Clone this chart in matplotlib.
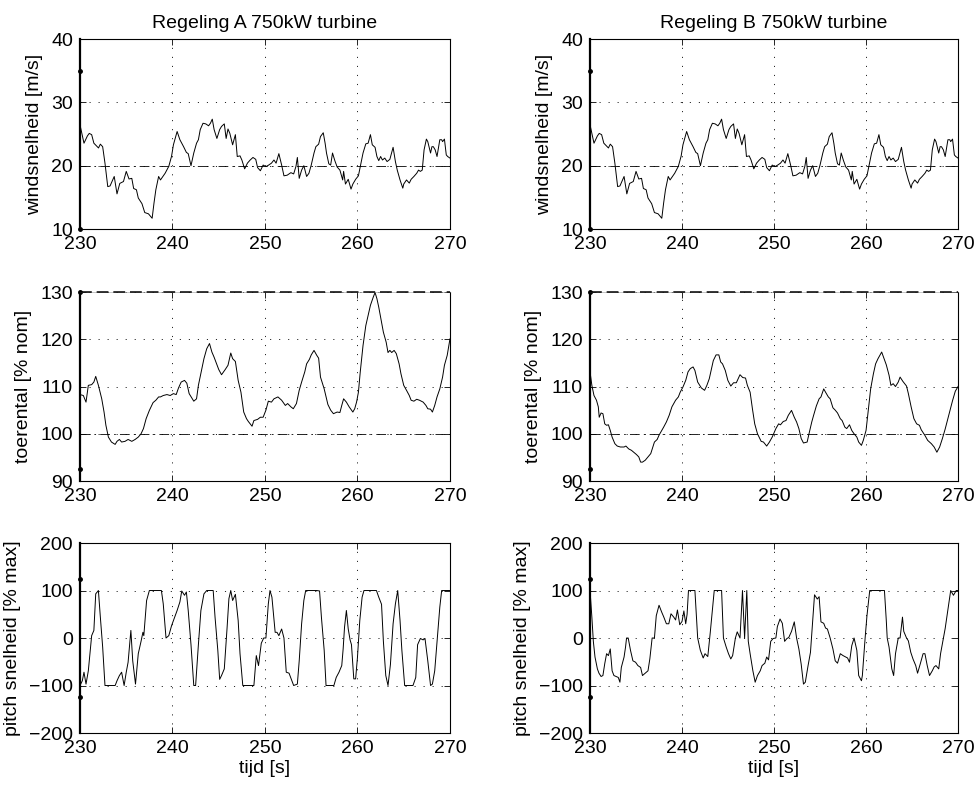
import matplotlib
matplotlib.use("Agg")
import matplotlib.pyplot as plt

# ---- data ----
# wind speed (same input for both controllers)
t_wind = [230.0, 230.43, 230.8, 231.0, 231.26, 231.5, 231.8, 232.0, 232.2, 232.45,
          232.7, 233.0, 233.25, 233.7, 234.0, 234.3, 234.7, 235.0, 235.3, 235.6,
          235.8, 236.1, 236.3, 236.7, 237.0, 237.4, 237.8, 238.0, 238.2, 238.5,
          238.7, 239.2, 239.6, 239.9, 240.1, 240.5, 240.8, 241.2, 241.5, 241.7,
          242.0, 242.3, 242.6, 242.8, 243.0, 243.3, 243.6, 243.9, 244.1, 244.3,
          244.5, 244.8, 245.1, 245.3, 245.6, 245.8, 246.0, 246.2, 246.5, 246.8,
          247.0, 247.3, 247.5, 247.8, 248.1, 248.4, 248.7, 249.0, 249.2, 249.5,
          249.8,
          250.1, 250.4, 250.7, 250.97, 251.2, 251.5, 251.8, 252.05, 252.4, 252.8,
          253.1, 253.35, 253.5, 253.7, 253.96, 254.2, 254.5, 254.75, 255.0, 255.3,
          255.5, 255.8, 256.0, 256.3, 256.5, 256.65, 256.9, 257.1, 257.3, 257.55,
          257.8, 258.1, 258.4, 258.5, 258.7, 259.0, 259.3, 259.5, 259.8, 260.1,
          260.3, 260.6, 260.9, 261.15, 261.4, 261.6, 261.9, 262.1, 262.3, 262.5,
          262.7, 262.95, 263.2, 263.5, 263.85, 264.1, 264.3, 264.6, 264.9, 265.0,
          265.3, 265.6, 265.8, 266.1, 266.4, 266.6, 266.8, 267.0, 267.2, 267.45,
          267.6, 267.9, 268.05, 268.2, 268.4, 268.6, 268.9, 269.1, 269.2, 269.4,
          269.6, 269.75, 270.0]
wind = [26.45, 23.55, 24.7, 25.1, 24.9, 23.55, 23.1, 22.8, 23.4, 23.0,
        20.4, 16.7, 16.8, 18.3, 15.55, 17.2, 17.5, 19.1, 17.9, 18.0,
        16.4, 16.2, 14.9, 14.0, 12.6, 12.4, 11.7, 14.1, 16.2, 18.3,
        17.75, 18.8, 19.9, 21.5, 23.3, 25.4, 24.1, 23.0, 22.1, 21.9,
        20.0, 22.0, 23.55, 24.1, 25.7, 26.7, 26.6, 26.3, 26.7, 27.35,
        25.7, 24.3, 25.7, 26.2, 26.6, 24.3, 25.8, 25.1, 23.3, 24.9,
        21.45, 21.55, 20.9, 19.5, 20.4, 20.9, 21.3, 21.0, 19.7, 19.2,
        20.1,
        19.85, 20.1, 20.4, 20.9, 20.4, 21.9, 20.1, 18.4, 18.5, 18.9,
        18.7, 19.9, 21.3, 18.0, 19.3, 20.0, 18.3, 18.8, 20.1, 22.0,
        23.0, 23.4, 24.6, 25.2, 23.55, 22.0, 20.3, 20.1, 22.0, 20.8,
        19.8, 19.3, 17.75, 19.1, 17.1, 17.85, 16.3, 17.1, 17.85, 18.4,
        19.85, 22.0, 23.45, 23.55, 24.9, 23.3, 22.9, 21.45, 20.8, 21.45,
        20.9, 21.2, 20.65, 21.0, 22.9, 20.65, 19.3, 17.75, 16.45, 17.1,
        17.75, 17.25, 17.85, 18.3, 18.8, 19.3, 19.1, 19.3, 22.5, 24.2,
        23.8, 22.0, 23.0, 23.0, 22.5, 21.45, 24.1, 24.1, 23.8, 24.2,
        21.7, 21.45, 21.2]

# rotor speed, controller A
t_rpm_a = [230.0, 230.36, 230.65, 230.9, 231.26, 231.5, 231.7, 231.99, 232.35, 232.6,
           232.8, 233.07, 233.4, 233.8, 234.0, 234.26, 234.5, 234.87, 235.2, 235.6,
           235.96, 236.3, 236.6, 236.86, 237.15, 237.5, 237.9, 238.2, 238.5, 238.7,
           239.0, 239.4, 239.75, 240.1, 240.4, 240.65, 240.94, 241.3, 241.55, 241.8,
           242.3, 242.6, 242.8, 243.1, 243.4, 243.7, 244.0, 244.26, 244.5, 245.0,
           245.3, 245.7, 246.0, 246.3, 246.5, 246.8, 247.1, 247.4, 247.7, 248.0,
           248.2, 248.6, 248.8, 249.2, 249.5, 249.8,
           250.1, 250.36, 250.7, 250.97, 251.4, 251.8, 252.2, 252.45, 252.8, 253.06,
           253.4, 253.7, 253.96, 254.3, 254.5, 254.8, 255.0, 255.3, 255.6, 255.8,
           256.0, 256.4, 256.65, 256.8, 257.1, 257.4, 257.8, 258.1, 258.3, 258.5,
           258.8, 259.1, 259.5, 259.7, 259.9, 260.1, 260.3, 260.6, 260.9, 261.15,
           261.4, 261.7, 261.9, 262.1, 262.3, 262.6, 262.8, 263.1, 263.3, 263.5,
           263.7, 263.96, 264.2, 264.5, 264.7, 265.0, 265.3, 265.6, 265.8, 266.1,
           266.4, 266.7, 267.1, 267.4, 267.6, 267.9, 268.1, 268.35, 268.6, 268.9,
           269.2, 269.4, 269.7, 270.0]
rpm_a = [108.3, 108.1, 106.7, 110.25, 110.4, 110.95, 112.15, 110.25, 107.4, 104.6,
         101.8, 99.3, 98.25, 97.75, 98.4, 98.8, 98.25, 98.4, 98.8, 98.4,
         98.8, 99.3, 100.0, 101.1, 103.2, 104.95, 106.6, 107.1, 107.8, 107.8,
         108.1, 108.3, 108.1, 108.5, 108.3, 109.7, 110.95, 111.3, 110.7, 108.5,
         106.9, 107.4, 110.25, 113.1, 115.9, 118.0, 119.1, 117.3, 116.2, 113.6,
         112.5, 113.6, 114.5, 117.1, 115.9, 115.3, 111.3, 108.8, 104.6, 103.2,
         102.6, 101.6, 102.8, 103.05, 103.5, 103.5,
         105.0, 106.9, 106.7, 107.4, 107.8, 107.1, 106.0, 106.4, 105.7, 105.3,
         106.4, 109.2, 110.95, 113.1, 114.8, 115.75, 116.7, 117.65, 116.6, 116.0,
         112.0, 109.5, 107.4, 106.2, 105.0, 104.25, 104.6, 104.5, 106.0, 107.4,
         106.7, 105.7, 104.6, 105.3, 106.7, 108.8, 113.1, 118.7, 122.9, 125.1,
         127.2, 128.9, 129.9, 128.6, 126.8, 123.65, 121.5, 119.4, 117.2, 117.65,
         117.2, 117.65, 116.95, 114.8, 112.7, 110.25, 109.2, 108.1, 107.1, 106.9,
         107.3, 107.1, 106.7, 106.0, 105.3, 105.2, 104.6, 106.0, 107.8, 109.5,
         112.0, 114.5, 116.6, 120.1]

# rotor speed, controller B
t_rpm_b = [230.0, 230.2, 230.43, 230.7, 230.9, 231.0, 231.2, 231.4, 231.6, 231.8,
           232.0, 232.2, 232.4, 232.7, 232.96, 233.3, 233.7, 233.9, 234.2, 234.5,
           234.8, 235.05, 235.3, 235.5, 235.7, 236.0, 236.3, 236.6, 236.8, 237.0,
           237.3, 237.5, 237.8, 238.0, 238.3, 238.6, 238.9, 239.3, 239.6, 239.8,
           240.1, 240.4, 240.65, 240.9, 241.2, 241.4, 241.7, 242.1, 242.45, 242.7,
           242.96, 243.2, 243.4, 243.7, 244.0, 244.2, 244.4, 244.7, 244.98, 245.3,
           245.6, 245.9, 246.1, 246.3, 246.6, 246.9, 247.1, 247.4, 247.65, 247.9,
           248.2, 248.6, 248.85, 249.2, 249.5, 249.8, 250.2, 250.5, 250.7, 251.0,
           251.3, 251.55, 251.9, 252.2, 252.45, 252.7, 252.95, 253.2, 253.6, 253.8,
           254.1, 254.3, 254.6, 254.9, 255.1, 255.4, 255.6, 255.9, 256.1, 256.4,
           256.65, 256.9, 257.2, 257.4, 257.7, 257.9, 258.2, 258.45, 258.7, 259.0,
           259.2, 259.5, 259.7, 260.0, 260.25, 260.5, 260.8, 261.04, 261.3, 261.7,
           261.9, 262.2, 262.5, 262.7, 262.95, 263.2, 263.5, 263.7, 264.0, 264.4,
           264.6, 264.9, 265.2, 265.5, 265.8, 266.0, 266.4, 266.7, 267.1, 267.4,
           267.7, 268.0, 268.3, 268.6, 269.0, 269.4, 269.7, 270.0]
rpm_b = [113.1, 110.25, 108.1, 107.1, 105.7, 103.5, 104.4, 104.25, 102.1, 101.8,
         101.9, 100.7, 99.3, 97.9, 97.4, 97.2, 97.2, 97.4, 96.8, 96.5,
         96.0, 95.6, 95.1, 94.0, 94.0, 94.4, 95.1, 95.8, 97.0, 98.25,
         98.8, 99.7, 100.7, 101.4, 102.5, 103.9, 105.7, 107.1, 107.8, 108.8,
         109.9, 111.3, 113.1, 113.8, 114.15, 113.4, 110.95, 109.7, 109.2, 110.25,
         111.65, 113.8, 115.5, 116.7, 116.7, 115.2, 114.8, 113.4, 111.3, 110.1,
         110.8, 110.8, 111.65, 112.5, 111.9, 111.8, 110.25, 108.8, 105.3, 102.1,
         100.0, 98.4, 98.25, 97.4, 98.25, 99.3, 101.1, 102.1, 101.9, 102.6,
         102.8, 103.9, 104.95, 103.5, 102.5, 101.1, 99.0, 98.05, 98.25, 100.0,
         102.5, 103.9, 105.9, 107.4, 107.8, 109.5, 108.8, 107.8, 107.4, 105.5,
         105.0, 104.4, 103.2, 102.8, 101.4, 101.1, 101.9, 100.7, 100.0, 99.3,
         98.25, 97.55, 98.6, 100.7, 105.0, 109.5, 112.7, 114.8, 115.9, 117.3,
         116.2, 114.6, 112.4, 110.25, 110.6, 110.0, 110.95, 112.0, 111.1, 110.1,
         108.5, 105.7, 103.2, 102.1, 101.8, 100.85, 99.65, 98.6, 97.9, 97.2,
         96.1, 97.2, 99.0, 101.0, 104.0, 107.0, 109.0, 110.0]

# pitch rate, controller A
t_pitch_a = [230.0, 230.25, 230.43, 230.65, 230.9, 231.26, 231.5, 231.7, 231.99, 232.2,
             232.45, 232.7, 233.07, 233.4, 233.8, 234.0, 234.26, 234.5, 234.77, 235.0,
             235.2, 235.5, 235.7, 236.0, 236.3, 236.6, 236.8, 236.9, 237.2, 237.5,
             237.9, 238.4, 238.8, 239.0, 239.3, 239.6, 239.9, 240.5, 240.8, 241.0,
             241.3, 241.5, 241.7, 242.0, 242.3, 242.5, 242.8, 243.07, 243.4, 243.7,
             244.1, 244.4, 244.6, 244.9, 245.1, 245.3, 245.6, 245.9, 246.1, 246.3,
             246.5, 246.8, 247.1, 247.3, 247.6, 248.05, 248.4, 248.8, 249.06, 249.3,
             249.6, 249.86,
             250.1, 250.36, 250.54, 250.75, 251.1, 251.3, 251.5, 251.8, 252.05, 252.3,
             252.6, 252.9, 253.1, 253.5, 253.7, 253.96, 254.2, 254.4, 254.86, 255.3,
             255.6, 255.9, 256.1, 256.4, 256.6, 257.0, 257.45, 257.7, 258.0, 258.3,
             258.45, 258.6, 258.8, 259.0, 259.2, 259.35, 259.6, 259.8, 260.0, 260.25,
             260.5, 260.7, 261.15, 261.7, 262.05, 262.3, 262.6, 262.8, 263.06, 263.3,
             263.56, 263.85, 264.1, 264.35, 264.6, 264.8, 265.1, 265.5, 266.0, 266.3,
             266.5, 266.8, 267.1, 267.3, 267.6, 267.9, 268.1, 268.35, 268.6, 268.9,
             269.1, 269.6, 270.0]
pitch_a = [-100, -90, -72, -97, -69, 5, 16, 93, 100, 44,
           -19, -100, -100, -100, -100, -90, -79, -72, -100, -72,
           -51, 16, -48, -97, -33, -7, 12, 5, 79, 100,
           100, 100, 100, 72, 0, 5, 26, 58, 76, 99,
           90, 97, 58, -14, -100, -100, -14, 58, 93, 100,
           100, 100, 44, -26, -87, -79, -65, 21, 83, 100,
           79, 92, 37, -33, -100, -100, -100, -100, -37, -58,
           -11, 0,
           0, 72, 100, 86, 12, 12, 5, 19, 0, -72,
           -74, -90, -100, -97, -48, 30, 79, 100, 100, 100,
           100, 99, 44, -26, -100, -100, -100, -83, -72, -58,
           -23, 23, 58, 19, -4, -14, -86, -86, -40, 37,
           86, 100, 100, 100, 100, 86, 71, -7, -79, -100,
           -56, 30, 72, 100, 37, -26, -100, -100, -100, -83,
           -14, -1, -4, -1, -48, -100, -97, -69, -7, 65,
           100, 100, 100]

# pitch rate, controller B
t_pitch_b = [230.0, 230.2, 230.36, 230.54, 230.8, 230.97, 231.2, 231.4, 231.6, 231.8,
             232.0, 232.2, 232.4, 232.6, 232.85, 233.07, 233.25, 233.4, 233.7, 233.86,
             233.97, 234.15, 234.4, 234.66, 234.95, 235.2, 235.5, 235.7, 236.0, 236.3,
             236.5, 236.75, 237.0, 237.2, 237.5, 237.8, 238.0, 238.3, 238.56, 238.8,
             239.1, 239.3, 239.5, 239.75, 240.0, 240.2, 240.4, 240.55, 240.7, 241.1,
             241.4, 241.7, 241.99, 242.3, 242.5, 242.8, 243.07, 243.3, 243.5, 243.97,
             244.3, 244.5, 244.8, 245.05, 245.3, 245.5, 245.8, 246.0, 246.3, 246.57,
             246.8, 247.04,
             247.2, 247.4, 247.7, 247.95, 248.2, 248.5, 248.7, 249.0, 249.2, 249.4,
             249.64, 249.9, 250.2, 250.36, 250.65, 250.9, 251.15, 251.4, 251.6, 251.9,
             252.2, 252.45, 252.7, 252.95, 253.2, 253.4, 253.7, 253.96, 254.2, 254.4,
             254.7, 254.9, 255.1, 255.4, 255.6, 255.8, 256.1, 256.4, 256.65, 256.9,
             257.2, 257.5, 257.7, 257.99, 258.2, 258.45, 258.7, 259.0, 259.2, 259.5,
             259.6, 259.9, 260.1, 260.4, 260.97, 261.5, 262.0, 262.2, 262.3, 262.5,
             262.8, 263.0, 263.2, 263.5, 263.7, 263.96, 264.1, 264.4, 264.6, 264.86,
             265.1, 265.4, 265.6, 265.9, 266.2, 266.4, 266.65, 266.9, 267.2, 267.4,
             267.6, 267.9, 268.1, 268.35, 268.6, 268.9, 269.2, 269.5, 269.8, 270.0]
pitch_b = [100, 44, -7, -40, -65, -74, -81, -79, -54, -33,
           -37, -23, -69, -79, -81, -83, -93, -62, -40, -19,
           0, 0, -26, -48, -51, -58, -62, -79, -74, -69,
           -44, 0, 0, 47, 69, 54, 45, 30, 30, 51,
           44, 38, 59, 28, 35, 57, 30, 50, 100, 100,
           100, 0, -26, -42, -33, -39, 12, 58, 100, 100,
           100, 0, -19, -33, -44, -37, 0, 13, 0, 100,
           0, 100,
           -7, -33, -69, -93, -79, -69, -58, -53, -40, -46,
           -7, -1, 0, 24, 40, 31, -7, -1, 1, 14,
           34, 0, -23, -55, -97, -93, -58, -30, 37, 91,
           82, 87, 34, 31, 21, 19, 0, -23, -48, -53,
           -33, -37, -39, -42, -51, -16, 0, -26, -79, -90,
           -79, 0, 47, 100, 100, 100, 100, 37, 0, -19,
           -65, -79, -33, 0, 0, 44, 14, 0, -6, -30,
           -44, -58, -74, -54, -33, -33, -58, -79, -69, -61,
           -58, -65, -33, -7, 20, 60, 100, 90, 100, 100]

# reference levels and the two dots on the left axis
wind_ref = 20
rpm_nom = 100
rpm_max = 130
dots_wind = [10, 35]
dots_rpm = [92.5, 130]
dots_pitch = [-125, 125]

titles = ["Regeling A 750kW turbine", "Regeling B 750kW turbine"]
ylabels = ["windsnelheid [m/s]", "toerental [% nom]", "pitch snelheid [% max]"]
xlabel = "tijd [s]"
xticks = [230, 240, 250, 260, 270]
yticks_wind = [10, 20, 30, 40]
yticks_rpm = [90, 100, 110, 120, 130]
yticks_pitch = [-200, -100, 0, 100, 200]

plt.rcParams["font.family"] = ["Liberation Sans", "DejaVu Sans"]
plt.rcParams["font.size"] = 14
plt.rcParams["lines.scale_dashes"] = False

GRID = (0, (0.8, 5.7))
DASHDOT = (0, (7, 3, 1.2, 3))
DASHED = (0, (8.5, 3.5))

fig = plt.figure(figsize=(9.78, 7.87), dpi=100)
lefts = [0.0818, 0.6033]
widths = [0.3783, 0.3763]
bottoms = [0.709, 0.3888, 0.0686]
heights = [0.2414, 0.2401, 0.2414]


def style_axes(ax, yticks):
    ax.set_xlim(230, 270)
    ax.set_ylim(yticks[0], yticks[-1])
    ax.set_xticks(xticks)
    ax.set_yticks(yticks)
    ax.tick_params(direction="in", length=4, width=0.6, top=True, right=True)
    ax.tick_params(axis="x", pad=5)
    ax.tick_params(axis="y", pad=5)
    ax.grid(True, color="k", linestyle=GRID, linewidth=0.6)
    for side in ["top", "right", "bottom"]:
        ax.spines[side].set_linewidth(0.8)
    ax.spines["left"].set_linewidth(1.6)


columns = [(t_rpm_a, rpm_a, t_pitch_a, pitch_a),
           (t_rpm_b, rpm_b, t_pitch_b, pitch_b)]

for c, (t_r, r, t_p, p) in enumerate(columns):
    # wind speed
    ax = fig.add_axes([lefts[c], bottoms[0], widths[c], heights[0]])
    ax.plot(t_wind, wind, color="k", lw=0.7)
    ax.axhline(wind_ref, color="k", linestyle=DASHDOT, lw=0.6)
    ax.plot([230, 230], dots_wind, "k.", ms=5, clip_on=False)
    style_axes(ax, yticks_wind)
    ax.set_ylabel(ylabels[0], labelpad=6)
    ax.set_title(titles[c], fontsize=14, pad=8)

    # rotor speed
    ax = fig.add_axes([lefts[c], bottoms[1], widths[c], heights[1]])
    ax.plot(t_r, r, color="k", lw=0.7)
    ax.axhline(rpm_nom, color="k", linestyle=DASHDOT, lw=0.6)
    ax.axhline(rpm_max, color="k", linestyle=DASHED, lw=1.1, clip_on=False, zorder=3)
    ax.plot([230, 230], dots_rpm, "k.", ms=5, clip_on=False)
    style_axes(ax, yticks_rpm)
    # the max-speed line sits on the top border, keep the border faint there
    ax.spines["top"].set_color("0.6")
    ax.spines["top"].set_linewidth(0.4)
    ax.set_ylabel(ylabels[1], labelpad=6)

    # pitch rate
    ax = fig.add_axes([lefts[c], bottoms[2], widths[c], heights[2]])
    ax.plot(t_p, p, color="k", lw=0.7)
    ax.plot([230, 230], dots_pitch, "k.", ms=5, clip_on=False)
    style_axes(ax, yticks_pitch)
    ax.set_ylabel(ylabels[2], labelpad=6)
    ax.set_xlabel(xlabel, labelpad=2)

fig.savefig("out.png", dpi=100)
